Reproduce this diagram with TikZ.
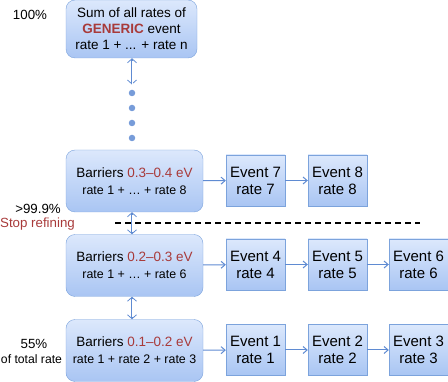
\documentclass[tikz,border=0pt]{standalone}
\usepackage{fontspec}
\setmainfont{Liberation Sans}
\usetikzlibrary{arrows.meta}
\definecolor{boxline}{HTML}{7CA3DC}
\definecolor{boxtop}{HTML}{DCE8FC}
\definecolor{boxbot}{HTML}{A9C5F3}
\definecolor{arrowblue}{HTML}{5F8BD2}
\definecolor{textred}{HTML}{A83A3A}
\begin{document}
\begin{tikzpicture}[
        x=1pt, y=-1pt,
        barrier/.style={
            draw=boxline,
            top color=boxtop,
            bottom color=boxbot,
            rounded corners=9pt,
            minimum width=137pt,
            minimum height=62pt,
            align=center,
            inner sep=0pt,
            font=\fontsize{13.5}{17}\selectfont
        },
        event/.style={
            draw=boxline,
            top color=boxtop,
            bottom color=boxbot,
            minimum width=59pt,
            minimum height=51pt,
            align=center,
            inner sep=0pt,
            font=\fontsize{15}{17}\selectfont
        },
        dot/.style={circle, fill=arrowblue!85, inner sep=0pt, minimum size=6.5pt},
        flow/.style={arrowblue, line width=1pt, -{Straight Barb[length=4pt,width=7pt]}},
        link/.style={arrowblue, line width=2.6pt,
            {Straight Barb[length=4pt,width=9pt,line width=0.8pt]}-{Straight Barb[length=4pt,width=9pt,line width=0.8pt]},
            postaction={draw=white, line width=1pt, shorten <=2.5pt, shorten >=2.5pt, arrows=-}},
        pct/.style={font=\fontsize{13.3}{15}\selectfont, inner sep=0pt}
    ]
    \useasboundingbox (0,0) rectangle (448,382);

    % Generic event
    \node[barrier, minimum width=131pt, minimum height=58pt,
          font=\fontsize{13.5}{16}\selectfont] (gen) at (131.5,29)
        {Sum of all rates of\\{\color{textred}\bfseries GENERIC} event\\rate 1 + ... + rate n};
    \node[dot] (d1) at (132,93)  {};
    \node[dot] (d2) at (132,108) {};
    \node[dot] (d3) at (132,123) {};
    \node[dot] (d4) at (132,138) {};

    \draw[link, shorten >=5pt] ([xshift=0.5pt]gen.south) -- (d1);

    % Barriers 0.3--0.4 eV
    \node[barrier] (bar3) at (134.5,181)
        {Barriers {\color{textred}0.3–0.4 eV}\\{\fontsize{12.4}{13}\selectfont rate 1 + … + rate 8}};
    \node[event] (ev7) at (255.5,180.5) {Event 7\\rate 7};
    \node[event] (ev8) at (337.5,180.5) {Event 8\\rate 8};

    \draw[flow] (bar3) -- (ev7);
    \draw[flow] (ev7) -- (ev8);

    % Barriers 0.2--0.3 eV
    \node[barrier] (bar2) at (134.5,265.5)
        {Barriers {\color{textred}0.2–0.3 eV}\\{\fontsize{12.4}{13}\selectfont rate 1 + … + rate 6}};
    \node[event] (ev4) at (255.5,264.5) {Event 4\\rate 4};
    \node[event] (ev5) at (337.5,264.5) {Event 5\\rate 5};
    \node[event] (ev6) at (418.5,264.5) {Event 6\\rate 6};

    \draw[flow] (bar2) -- (ev4);
    \draw[flow] (ev4) -- (ev5);
    \draw[flow] (ev5) -- (ev6);

    % Barriers 0.1--0.2 eV
    \node[barrier] (bar1) at (134.5,350.5)
        {Barriers {\color{textred}0.1–0.2 eV}\\{\fontsize{12.4}{13}\selectfont rate 1 + rate 2 + rate 3}};
    \node[event] (ev1) at (255.5,350) {Event 1\\rate 1};
    \node[event] (ev2) at (337.5,350) {Event 2\\rate 2};
    \node[event] (ev3) at (418.5,350) {Event 3\\rate 3};

    \draw[flow] (bar1) -- (ev1);
    \draw[flow] (ev1) -- (ev2);
    \draw[flow] (ev2) -- (ev3);

    % Links between barrier groups
    \draw[link] ([xshift=-2.5pt]bar3.south) -- ([xshift=-2.5pt]bar2.north);
    \draw[link] ([xshift=-2.5pt]bar2.south) -- ([xshift=-2.5pt]bar1.north);

    % Cut-off
    \coordinate (cutl) at (115,223);
    \coordinate (cutr) at (420,223);
    \draw[line width=1.2pt, dash pattern=on 6pt off 4pt] (cutl) -- (cutr);

    % Share of rate
    \node[pct] (p100) at (30,15)  {100\%};
    \node[pct] (p999) at (38,209) {>99.9\%};
    \node[pct, textred] (stop) at (37.5,224) {Stop refining};
    \node[pct] (p55)  at (34,344) {55\%};
    \node[pct, font=\fontsize{12.2}{14}\selectfont] (ptot) at (31.5,359) {of total rate};

\end{tikzpicture}
\end{document}
